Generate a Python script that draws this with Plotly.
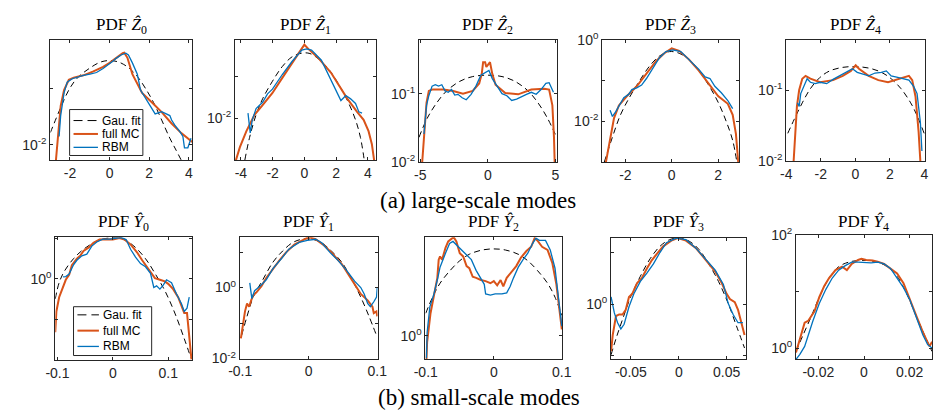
import plotly.graph_objects as go

# ---------------- data (x values, log10 of PDF values) ----------------
# Large-scale modes Z0..Z4
Z0_GAU_X = [-2.99,-2.47,-2.06,-1.64,-0.99,-0.49,-0.08,0.41,0.90,1.40,1.81,2.22,2.63,3.04,3.37,3.62]
Z0_GAU_L = [-1.78,-1.34,-1.03,-0.82,-0.64,-0.54,-0.51,-0.53,-0.62,-0.79,-1.0,-1.25,-1.56,-1.88,-2.10,-2.27]
Z0_MC_X = [-2.71,-2.6,-2.47,-2.30,-2.06,-1.81,-1.32,-0.82,-0.33,0,0.33,0.66,0.74,0.9,1.15,1.4,1.64,2.14,2.63,3.13,3.62,4.11,4.16]
Z0_MC_L = [-2.27,-1.76,-1.31,-1.03,-0.85,-0.81,-0.77,-0.70,-0.62,-0.55,-0.46,-0.38,-0.37,-0.46,-0.75,-0.92,-1.08,-1.25,-1.42,-1.62,-1.79,-1.93,-1.95]
Z0_RBM_X = [-2.55,-2.47,-2.30,-2.14,-1.89,-1.64,-1.32,-0.99,-0.66,-0.33,0,0.16,0.33,0.58,0.82,0.95,1.15,1.4,1.56,1.81,2.06,2.30,2.63,2.88,3.04,3.13,3.29,3.54,3.70,3.78,3.95,4.11]
Z0_RBM_L = [-1.85,-1.48,-1.08,-0.89,-0.83,-0.80,-0.77,-0.75,-0.72,-0.65,-0.57,-0.52,-0.47,-0.41,-0.38,-0.41,-0.55,-0.75,-1.03,-1.17,-1.31,-1.45,-1.41,-1.45,-1.48,-1.56,-1.65,-1.76,-1.85,-2.05,-2.05,-1.88]

Z1_GAU_X = [-3.75,-3.45,-3.04,-2.63,-2.01,-1.39,-0.78,-0.16,0.35,0.86,1.48,2.09,2.71,3.22,3.53,3.77]
Z1_GAU_L = [-3.0,-2.46,-1.92,-1.54,-1.12,-0.77,-0.54,-0.45,-0.46,-0.58,-0.81,-1.15,-1.58,-2.04,-2.46,-3.0]
Z1_MC_X = [-4.31,-4.06,-3.65,-3.14,-2.63,-2.01,-1.39,-0.78,-0.27,0,0.25,0.86,1.68,2.30,2.71,3.32,3.73,4.04,4.25,4.39]
Z1_MC_L = [-3.0,-2.69,-2.31,-1.92,-1.69,-1.40,-1.04,-0.69,-0.42,-0.25,-0.35,-0.56,-0.92,-1.31,-1.54,-1.85,-2.04,-2.31,-2.62,-3.0]
Z1_RBM_X = [-3.55,-3.41,-3.28,-3.04,-2.63,-2.32,-2.01,-1.39,-0.78,-0.16,0.14,0.45,1.07,1.68,2.30,2.61,2.91,3.22,3.43,3.63]
Z1_RBM_L = [-1.88,-2.35,-2.04,-1.77,-1.62,-1.42,-1.31,-0.96,-0.65,-0.38,-0.35,-0.38,-0.62,-1.08,-1.58,-1.46,-1.54,-1.65,-1.85,-1.88]

Z2_GAU_X = [-5.1,-4.49,-3.77,-3.05,-2.08,-1.12,0,1.05,2.01,2.98,3.70,4.42,5.1]
Z2_GAU_L = [-1.64,-1.36,-1.13,-0.96,-0.82,-0.75,-0.73,-0.75,-0.82,-0.96,-1.13,-1.36,-1.64]
Z2_MC_X = [-4.86,-4.74,-4.54,-4.37,-4.13,-3.29,-2.57,-1.84,-1.12,-0.64,-0.45,-0.35,-0.2,-0.11,0.04,0.16,0.33,0.57,1.29,2.25,3.22,4.18,4.54,4.78,4.9,4.95]
Z2_MC_L = [-2.0,-1.64,-1.13,-0.96,-0.94,-0.94,-0.96,-1.0,-0.96,-0.85,-0.71,-0.54,-0.54,-0.61,-0.57,-0.54,-0.71,-0.87,-0.99,-1.01,-0.94,-0.93,-0.94,-1.17,-1.64,-2.0]
Z2_RBM_X = [-4.73,-4.54,-4.37,-4.13,-3.89,-3.65,-3.41,-3.17,-2.93,-2.69,-2.45,-2.21,-1.9,-1.6,-1.24,-0.88,-0.52,-0.16,0.08,0.33,0.69,1.05,1.41,1.77,2.13,2.49,2.86,3.22,3.58,3.94,4.3,4.54,4.66,4.86]
Z2_RBM_L = [-1.59,-1.17,-1.03,-0.89,-0.87,-0.89,-0.87,-0.96,-0.98,-0.94,-1.02,-1.01,-1.06,-1.09,-1.01,-0.89,-0.73,-0.68,-0.66,-0.78,-0.89,-1.0,-1.03,-1.1,-1.08,-1.04,-1.01,-0.98,-1.01,-0.94,-0.85,-0.84,-0.89,-0.98]

Z3_GAU_X = [-2.91,-2.56,-2.21,-1.79,-1.37,-0.95,-0.53,-0.1,0.32,0.74,1.16,1.58,2.0,2.35,2.63,2.81]
Z3_GAU_L = [-3.0,-2.39,-1.84,-1.38,-0.99,-0.64,-0.4,-0.29,-0.33,-0.48,-0.75,-1.1,-1.53,-2.0,-2.47,-3.0]
Z3_MC_X = [-2.84,-2.7,-2.49,-2.28,-1.93,-1.51,-1.09,-0.67,-0.32,0,0.32,0.74,1.16,1.58,2.0,2.42,2.63,2.77,2.87]
Z3_MC_L = [-3.0,-2.54,-1.92,-1.61,-1.38,-1.14,-0.83,-0.52,-0.33,-0.21,-0.27,-0.48,-0.75,-1.07,-1.38,-1.57,-1.84,-2.31,-3.0]
Z3_RBM_X = [-2.66,-2.56,-2.42,-2.21,-2.07,-1.86,-1.72,-1.51,-1.3,-1.09,-0.81,-0.53,-0.25,0.04,0.39,0.74,1.16,1.44,1.65,1.86,2.14,2.42,2.63]
Z3_RBM_L = [-1.73,-1.88,-1.77,-1.57,-1.42,-1.34,-1.22,-1.18,-1.11,-0.95,-0.68,-0.44,-0.29,-0.25,-0.29,-0.48,-0.72,-0.91,-0.95,-1.14,-1.3,-1.49,-1.69]

Z4_GAU_X = [-3.91,-3.53,-3.07,-2.6,-2.04,-1.48,-0.73,0,0.77,1.51,2.07,2.64,3.2,3.57,3.98]
Z4_GAU_L = [-1.61,-1.41,-1.18,-0.98,-0.82,-0.73,-0.68,-0.67,-0.69,-0.75,-0.84,-0.98,-1.18,-1.36,-1.61]
Z4_MC_X = [-3.57,-3.5,-3.38,-3.25,-3.07,-2.88,-2.6,-2.04,-1.29,-0.73,-0.26,0.02,0.21,0.77,1.33,1.89,2.45,2.82,3.1,3.29,3.48,3.66,3.76]
Z4_MC_L = [-2.0,-1.68,-1.23,-1.0,-0.84,-0.8,-0.84,-0.89,-0.86,-0.8,-0.73,-0.65,-0.7,-0.8,-0.86,-0.89,-0.85,-0.82,-0.8,-0.86,-1.09,-1.59,-2.0]
Z4_RBM_X = [-3.35,-3.25,-3.16,-2.97,-2.79,-2.6,-2.32,-2.04,-1.66,-1.29,-0.92,-0.54,-0.17,0.11,0.39,0.77,1.14,1.51,1.79,2.07,2.45,2.82,3.1,3.38,3.57,3.76,3.85]
Z4_RBM_L = [-1.18,-1.23,-1.05,-0.95,-0.84,-0.89,-0.91,-0.89,-0.91,-0.85,-0.8,-0.75,-0.7,-0.75,-0.77,-0.8,-0.76,-0.75,-0.73,-0.8,-0.82,-0.84,-0.86,-0.95,-1.05,-1.45,-1.86]

# Small-scale modes Y0..Y4
Y0_GAU_X = [-0.104,-0.097,-0.088,-0.071,-0.053,-0.029,-0.006,0.018,0.038,0.059,0.076,0.094,0.112,0.129,0.141]
Y0_GAU_L = [-0.49,-0.09,0.18,0.5,0.73,0.93,1.01,0.98,0.81,0.5,0.14,-0.29,-0.84,-1.47,-1.94]
Y0_MC_X = [-0.104,-0.102,-0.097,-0.091,-0.085,-0.079,-0.074,-0.065,-0.059,-0.053,-0.044,-0.035,-0.024,-0.012,0,0.012,0.021,0.032,0.044,0.053,0.065,0.076,0.085,0.094,0.1,0.109,0.118,0.124,0.129,0.134,0.138,0.142]
Y0_MC_L = [-1.31,-0.8,-0.45,-0.25,-0.02,0.1,0.34,0.5,0.57,0.69,0.77,0.89,0.97,0.98,0.97,1.01,0.97,0.85,0.65,0.46,0.22,0.02,-0.02,-0.06,-0.12,-0.25,-0.45,-0.65,-0.84,-0.84,-1.39,-1.98]
Y0_RBM_X = [-0.09,-0.085,-0.079,-0.071,-0.065,-0.056,-0.047,-0.038,-0.029,-0.018,-0.006,0.006,0.015,0.024,0.032,0.041,0.05,0.059,0.068,0.074,0.079,0.085,0.091,0.097,0.106,0.115,0.124,0.129,0.134,0.138]
Y0_RBM_L = [0.05,0.06,0.12,0.35,0.46,0.57,0.61,0.81,0.91,0.98,0.98,1.01,1.02,0.97,0.73,0.54,0.38,0.3,0.14,-0.21,-0.17,-0.25,-0.15,-0.02,-0.09,-0.37,-0.61,-0.8,-0.72,-0.45]

Y1_GAU_X = [-0.098,-0.09,-0.081,-0.067,-0.052,-0.038,-0.024,-0.01,0.005,0.019,0.033,0.048,0.062,0.076,0.088,0.099]
Y1_GAU_L = [-1.35,-0.81,-0.27,0.22,0.72,1.03,1.26,1.36,1.36,1.26,1.03,0.72,0.27,-0.27,-0.81,-1.35]
Y1_MC_X = [-0.099,-0.096,-0.093,-0.09,-0.087,-0.084,-0.081,-0.076,-0.069,-0.062,-0.052,-0.043,-0.033,-0.021,-0.01,0,0.01,0.021,0.033,0.048,0.057,0.067,0.076,0.086,0.093,0.095,0.099,0.1]
Y1_MC_L = [-1.43,-1.08,-0.67,-0.45,-0.54,-0.36,-0.22,-0.13,0.04,0.27,0.54,0.76,0.99,1.21,1.32,1.42,1.36,1.21,0.99,0.67,0.4,0.09,-0.18,-0.36,-0.54,-0.72,-0.67,-0.81]
Y1_RBM_X = [-0.086,-0.083,-0.079,-0.071,-0.062,-0.052,-0.04,-0.029,-0.014,-0.002,0.01,0.019,0.031,0.043,0.055,0.067,0.076,0.081,0.086,0.09,0.095,0.099,0.1]
Y1_RBM_L = [0.13,-0.31,-0.09,0.04,0.22,0.54,0.81,1.08,1.27,1.33,1.36,1.26,0.99,0.76,0.49,0.18,0,-0.18,-0.45,-0.54,-0.4,-0.27,0]

Y2_GAU_X = [-0.1,-0.09,-0.079,-0.064,-0.05,-0.036,-0.017,0,0.017,0.036,0.05,0.064,0.079,0.09,0.1]
Y2_GAU_L = [0.21,0.36,0.49,0.61,0.7,0.76,0.8,0.81,0.8,0.76,0.7,0.61,0.49,0.36,0.19]
Y2_MC_X = [-0.099,-0.098,-0.093,-0.088,-0.083,-0.081,-0.079,-0.076,-0.071,-0.067,-0.062,-0.059,-0.055,-0.05,-0.045,-0.04,-0.036,-0.031,-0.026,-0.019,-0.012,-0.005,0,0.005,0.01,0.014,0.019,0.026,0.033,0.04,0.048,0.055,0.06,0.064,0.071,0.079,0.086,0.092,0.097,0.1]
Y2_MC_L = [-0.22,-0.06,0.21,0.39,0.54,0.71,0.74,0.71,0.82,0.88,0.9,0.92,0.88,0.77,0.74,0.65,0.63,0.55,0.54,0.52,0.51,0.49,0.51,0.47,0.52,0.46,0.54,0.6,0.65,0.73,0.79,0.83,0.91,0.89,0.83,0.8,0.68,0.48,0.24,0.06]
Y2_RBM_X = [-0.099,-0.098,-0.094,-0.088,-0.083,-0.079,-0.071,-0.065,-0.06,-0.055,-0.048,-0.04,-0.033,-0.026,-0.019,-0.014,-0.012,-0.005,0.002,0.012,0.019,0.024,0.029,0.036,0.043,0.05,0.057,0.062,0.067,0.076,0.083,0.09,0.095,0.1]
Y2_RBM_L = [-0.21,0.03,0.27,0.39,0.52,0.64,0.77,0.86,0.88,0.85,0.8,0.76,0.71,0.61,0.54,0.48,0.39,0.38,0.39,0.39,0.4,0.46,0.54,0.64,0.71,0.77,0.86,0.91,0.89,0.89,0.8,0.63,0.36,0.09]

Y3_GAU_X = [-0.0707,-0.0656,-0.0588,-0.0503,-0.0401,-0.0299,-0.0197,-0.0095,0.0007,0.0109,0.0211,0.0313,0.0415,0.0517,0.0602,0.0687]
Y3_GAU_L = [-0.98,-0.67,-0.3,0.14,0.54,0.88,1.12,1.25,1.28,1.22,1.06,0.78,0.44,0.01,-0.42,-0.85]
Y3_MC_X = [-0.0707,-0.069,-0.0656,-0.0622,-0.0588,-0.0554,-0.052,-0.0486,-0.0435,-0.0384,-0.0333,-0.0282,-0.0231,-0.0163,-0.0078,-0.001,0.0075,0.0177,0.0245,0.0313,0.0381,0.0449,0.05,0.0534,0.0585,0.0619,0.0653,0.0687]
Y3_MC_L = [-0.91,-0.6,-0.23,-0.2,-0.2,-0.11,0.14,0.2,0.41,0.51,0.69,0.85,0.97,1.12,1.23,1.28,1.23,1.09,0.94,0.78,0.63,0.41,0.2,0.1,0.04,-0.11,-0.36,-0.6]
Y3_RBM_X = [-0.0707,-0.0673,-0.0639,-0.0605,-0.0571,-0.052,-0.0469,-0.0401,-0.0333,-0.0265,-0.0197,-0.0129,-0.0027,0.0075,0.0177,0.0279,0.0381,0.0466,0.0517,0.0568,0.0619,0.067]
Y3_RBM_L = [0.14,-0.17,-0.36,-0.48,-0.39,-0.05,0.2,0.44,0.6,0.78,1.0,1.19,1.28,1.25,1.09,0.88,0.66,0.38,0.01,-0.2,-0.36,-0.36]

Y4_GAU_X = [-0.0298,-0.0267,-0.0231,-0.0196,-0.0153,-0.0111,-0.0068,-0.0026,0.0017,0.006,0.0102,0.0145,0.0187,0.023,0.0265,0.0298]
Y4_GAU_L = [-0.06,0.23,0.56,0.9,1.24,1.44,1.52,1.55,1.55,1.52,1.44,1.27,0.96,0.56,0.23,-0.06]
Y4_MC_X = [-0.0298,-0.0288,-0.0274,-0.026,-0.0245,-0.0231,-0.0217,-0.0196,-0.0174,-0.0153,-0.0125,-0.0096,-0.0075,-0.0054,-0.0026,-0.0011,0.001,0.0038,0.006,0.0088,0.0116,0.0145,0.0173,0.0201,0.023,0.0258,0.0279,0.0287,0.0298]
Y4_MC_L = [-0.08,0.06,0.25,0.45,0.48,0.56,0.65,0.9,1.1,1.24,1.38,1.44,1.38,1.49,1.56,1.58,1.56,1.55,1.53,1.49,1.41,1.32,1.15,0.85,0.56,0.28,0.11,0.03,0.11]
Y4_RBM_X = [-0.0298,-0.0281,-0.026,-0.0245,-0.0224,-0.0196,-0.0167,-0.0139,-0.0111,-0.0082,-0.0054,-0.0026,0.0003,0.0031,0.006,0.0088,0.0116,0.0145,0.0173,0.0201,0.023,0.0258,0.0279,0.0298]
Y4_RBM_L = [-0.2,-0.11,0.03,0.23,0.48,0.79,1.04,1.24,1.38,1.46,1.52,1.52,1.51,1.51,1.52,1.49,1.41,1.24,1.07,0.85,0.54,0.23,0.06,0.0]

TITLES = ["PDF <i>Ẑ</i><sub>0</sub>", "PDF <i>Ẑ</i><sub>1</sub>", "PDF <i>Ẑ</i><sub>2</sub>",
          "PDF <i>Ẑ</i><sub>3</sub>", "PDF <i>Ẑ</i><sub>4</sub>",
          "PDF <i>Ŷ</i><sub>0</sub>", "PDF <i>Ŷ</i><sub>1</sub>", "PDF <i>Ŷ</i><sub>2</sub>",
          "PDF <i>Ŷ</i><sub>3</sub>", "PDF <i>Ŷ</i><sub>4</sub>"]
SERIES_NAMES = ["Gau. fit", "full MC", "RBM"]
CAPTIONS = ["(a) large-scale modes", "(b) small-scale modes"]
X_TICKS = [[-2, 0, 2, 4], [-4, -2, 0, 2, 4], [-5, 0, 5], [-2, 0, 2], [-4, -2, 0, 2, 4],
           [-0.1, 0, 0.1], [-0.1, 0, 0.1], [-0.1, 0, 0.1], [-0.05, 0, 0.05], [-0.02, 0, 0.02]]
X_TICK_TEXT = [["-2", "0", "2", "4"], ["-4", "-2", "0", "2", "4"], ["-5", "0", "5"], ["-2", "0", "2"],
               ["-4", "-2", "0", "2", "4"], ["-0.1", "0", "0.1"], ["-0.1", "0", "0.1"], ["-0.1", "0", "0.1"],
               ["-0.05", "0", "0.05"], ["-0.02", "0", "0.02"]]
# labelled decades (exponents) and unlabelled decade tick marks
Y_LABELLED = [[-2], [-2], [-2, -1], [-2, 0], [-2, -1], [0], [-2, 0], [0], [0], [0, 2]]
Y_UNLABELLED = [[-1], [-3, -1], [], [-3, -1], [], [-2, -1, 1], [-1, 1], [], [-1, 1], [1]]

PANELS = [
    (Z0_GAU_X, Z0_GAU_L, Z0_MC_X, Z0_MC_L, Z0_RBM_X, Z0_RBM_L),
    (Z1_GAU_X, Z1_GAU_L, Z1_MC_X, Z1_MC_L, Z1_RBM_X, Z1_RBM_L),
    (Z2_GAU_X, Z2_GAU_L, Z2_MC_X, Z2_MC_L, Z2_RBM_X, Z2_RBM_L),
    (Z3_GAU_X, Z3_GAU_L, Z3_MC_X, Z3_MC_L, Z3_RBM_X, Z3_RBM_L),
    (Z4_GAU_X, Z4_GAU_L, Z4_MC_X, Z4_MC_L, Z4_RBM_X, Z4_RBM_L),
    (Y0_GAU_X, Y0_GAU_L, Y0_MC_X, Y0_MC_L, Y0_RBM_X, Y0_RBM_L),
    (Y1_GAU_X, Y1_GAU_L, Y1_MC_X, Y1_MC_L, Y1_RBM_X, Y1_RBM_L),
    (Y2_GAU_X, Y2_GAU_L, Y2_MC_X, Y2_MC_L, Y2_RBM_X, Y2_RBM_L),
    (Y3_GAU_X, Y3_GAU_L, Y3_MC_X, Y3_MC_L, Y3_RBM_X, Y3_RBM_L),
    (Y4_GAU_X, Y4_GAU_L, Y4_MC_X, Y4_MC_L, Y4_RBM_X, Y4_RBM_L),
]

# ---------------- layout geometry (pixels) ----------------
W, H = 943, 420
BOXES = [  # x0, x1, y0(top), y1(bottom)
    (39.3, 184.3, 31, 157), (228.3, 372.7, 31, 157), (416.7, 557.7, 31, 159),
    (604.3, 744.3, 31, 159), (792.7, 935.0, 31, 158),
    (44.3, 184.3, 237.3, 366), (233.3, 374.3, 237.3, 364.3), (423.3, 563.3, 237.3, 365),
    (613.3, 752.0, 238.3, 365), (802.7, 942.0, 235, 365),
]
X_RANGES = [(-2.99, 4.16), (-4.37, 4.51), (-5.1, 5.1), (-3.0, 2.9), (-4.0, 4.04),
            (-0.104, 0.143), (-0.1005, 0.1005), (-0.1005, 0.1005), (-0.0708, 0.0707), (-0.0298, 0.0298)]
Y_RANGES = [(-2.27, -0.14), (-3.003, -0.13), (-2.003, -0.21), (-3.003, 0.003), (-2.003, -0.29),
            (-2.003, 1.03), (-2.003, 1.42), (-0.22, 0.92), (-1.07, 1.28), (-0.2, 2.003)]
# legend boxes: (x0, y0, x1, y1, first row y, row step, line x0, line x1)
LEGEND_BOXES = [(59, 104, 134, 152, 115.5, 14, 63, 88), (63, 310, 143, 361, 318.5, 16.5, 67, 89)]

C_GAU, C_MC, C_RBM = "#000000", "#D95319", "#0072BD"
SERIES_LINES = [dict(color=C_GAU, width=1, dash="6px,4px"), dict(color=C_MC, width=2),
                dict(color=C_RBM, width=1.3)]
AX_COL = "#262626"
SANS = "Liberation Sans, Arial, sans-serif"
SERIF = "Liberation Serif, Times New Roman, serif"
TICK_FONT = dict(family=SANS, size=14, color=AX_COL)

fig = go.Figure()
layout = dict(width=W, height=H, margin=dict(l=0, r=0, t=0, b=0),
              paper_bgcolor="white", plot_bgcolor="white", showlegend=False)

annotations = []
shapes = []
for i, (gx, gl, mx, ml, rx, rl) in enumerate(PANELS):
    n = i + 1
    xa = "x" if n == 1 else f"x{n}"
    ya = "y" if n == 1 else f"y{n}"
    shapes_of = ["spline", "linear", "linear"]
    for k, (xs, ls) in enumerate([(gx, gl), (mx, ml), (rx, rl)]):
        fig.add_trace(go.Scatter(x=xs, y=[10 ** v for v in ls], mode="lines",
                                 line=dict(shape=shapes_of[k], **SERIES_LINES[k]),
                                 name=SERIES_NAMES[k], xaxis=xa, yaxis=ya, hoverinfo="skip"))

    x0, x1, y0, y1 = BOXES[i]
    axis_common = dict(showline=True, linecolor=AX_COL, linewidth=1, mirror="ticks", ticks="inside",
                       ticklen=3, tickwidth=0.8, tickcolor=AX_COL, showgrid=False, zeroline=False,
                       tickfont=TICK_FONT, fixedrange=True)
    layout["xaxis" if n == 1 else f"xaxis{n}"] = dict(
        domain=[x0 / W, x1 / W], anchor=ya, range=list(X_RANGES[i]),
        tickmode="array", tickvals=X_TICKS[i], ticktext=X_TICK_TEXT[i], **axis_common)
    yax = dict(domain=[1 - y1 / H, 1 - y0 / H], anchor=xa, type="log", range=list(Y_RANGES[i]),
               tickmode="array", tickvals=[10 ** e for e in Y_LABELLED[i]],
               ticktext=[f"10<sup>{e}</sup>" for e in Y_LABELLED[i]], **axis_common)
    if Y_UNLABELLED[i]:
        yax["minor"] = dict(tickmode="array", tickvals=[10 ** e for e in Y_UNLABELLED[i]],
                            ticks="inside", ticklen=3, tickwidth=0.8, tickcolor=AX_COL, showgrid=False)
    layout["yaxis" if n == 1 else f"yaxis{n}"] = yax
    annotations.append(dict(text=TITLES[i], x=(x0 + x1) / 2 / W, y=1 - (17 if i < 5 else 223) / H,
                            xref="paper", yref="paper", showarrow=False, xanchor="center", yanchor="middle",
                            font=dict(family=SERIF, size=17, color="black")))

for j, (cy, cx) in enumerate([(199, 477), (405, 478)]):
    annotations.append(dict(text=CAPTIONS[j], x=cx / W, y=1 - cy / H, xref="paper", yref="paper",
                            showarrow=False, xanchor="center", yanchor="middle",
                            font=dict(family=SERIF, size=23, color="black")))

# legends drawn inside panels Z0 and Y0
for (bx0, by0, bx1, by1, ry, rstep, lx0, lx1) in LEGEND_BOXES:
    shapes.append(dict(type="rect", xref="paper", yref="paper", x0=bx0 / W, x1=bx1 / W,
                       y0=1 - by1 / H, y1=1 - by0 / H, fillcolor="white",
                       line=dict(color=AX_COL, width=1), layer="above"))
    for k in range(3):
        yy = ry + k * rstep
        shapes.append(dict(type="line", xref="paper", yref="paper", x0=lx0 / W, x1=lx1 / W,
                           y0=1 - yy / H, y1=1 - yy / H, layer="above",
                           line=dict(color=SERIES_LINES[k]["color"], width=SERIES_LINES[k]["width"],
                                     dash="9px,5px" if k == 0 else "solid")))
        annotations.append(dict(text=SERIES_NAMES[k], x=(lx1 + 3) / W, y=1 - yy / H, xref="paper",
                                yref="paper", showarrow=False, xanchor="left", yanchor="middle",
                                font=dict(family=SANS, size=12, color="black"), borderpad=0))

layout["annotations"] = annotations
layout["shapes"] = shapes
fig.update_layout(**layout)
fig.write_html("out.html")
